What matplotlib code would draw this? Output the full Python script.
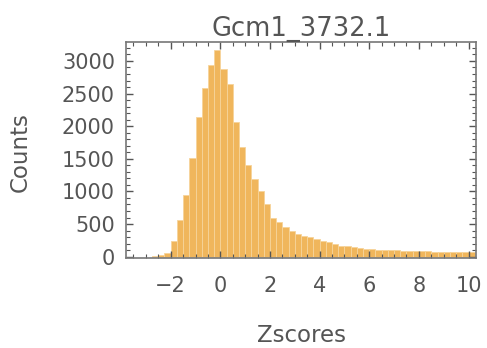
import numpy as np
import matplotlib
matplotlib.use("Agg")
import matplotlib.pyplot as plt
from matplotlib.ticker import MultipleLocator

# Histogram bins (width 0.25) and counts
bin_start = -2.75
bin_width = 0.25
counts = [10, 25, 60,
          240, 560, 950, 1510, 2140, 2580, 2940, 3160,
          2870, 2640, 2060, 1680, 1400, 1190, 1010, 810,
          600, 525, 450, 400, 350, 320, 295, 270,
          245, 220, 195, 170, 158, 145, 135, 125,
          118, 110, 105, 100, 95, 92, 88, 85,
          82, 80, 78, 76, 74, 72, 70, 68, 66, 64]
title = "Gcm1_3732.1"
xlabel = "Zscores"
ylabel = "Counts"
xticks = [-2, 0, 2, 4, 6, 8, 10]
xticklabels = ["\u22122", "0", "2", "4", "6", "8", "10"]
yticks = [0, 500, 1000, 1500, 2000, 2500, 3000]

edges = bin_start + bin_width * np.arange(len(counts) + 1)

text_col = "#555555"
frame_col = "#777777"

fig = plt.figure(figsize=(4.87, 3.48), dpi=100)
ax = fig.add_axes([126/487, 1 - 258/348, 350/487, 216/348])

ax.bar(edges[:-1], counts, width=bin_width, align="edge",
       color="#F0B65C", edgecolor="#F6D49A", linewidth=0.6)

ax.set_xlim(-3.8, 10.3)
ax.set_ylim(-20, 3290)
ax.set_xticks(xticks)
ax.set_xticklabels(xticklabels)
ax.set_yticks(yticks)
ax.xaxis.set_minor_locator(MultipleLocator(0.5))
ax.yaxis.set_minor_locator(MultipleLocator(100))

for s in ax.spines.values():
    s.set_color(frame_col)
    s.set_linewidth(1.2)

ax.tick_params(which="both", direction="in", top=True, right=True,
               color="#555555", labelcolor=text_col, labelsize=15)
ax.tick_params(which="major", length=5, width=1.0)
ax.tick_params(which="minor", length=3, width=0.8)
ax.tick_params(axis="x", which="both", pad=13)
ax.tick_params(axis="y", which="both", pad=8)

ax.set_title(title, fontsize=18.5, color=text_col, pad=3)
ax.set_xlabel(xlabel, fontsize=16.5, color=text_col)
ax.set_ylabel(ylabel, fontsize=16.5, color=text_col)
ax.xaxis.set_label_coords(0.502, -0.305)
ax.yaxis.set_label_coords(-0.27, 0.492)

fig.savefig("out.png", dpi=100)
